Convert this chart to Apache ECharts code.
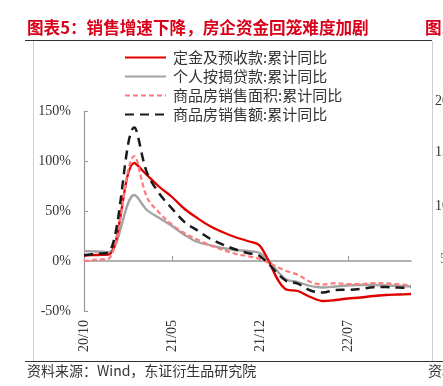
<!DOCTYPE html>
<html>
<head>
<meta charset="utf-8">
<script src="https://cdn.jsdelivr.net/npm/echarts@6/dist/echarts.min.js"></script>
<style>
html,body{margin:0;padding:0;background:#fff;}
#c{width:443px;height:386px;}
</style>
</head>
<body>
<div id="c"></div>
<script>
// ---- data ----
var categories = ['20/10','20/11','20/12','21/01','21/02','21/03','21/04','21/05','21/06','21/07','21/08','21/09','21/10','21/11','21/12','22/01','22/02','22/03','22/04','22/05','22/06','22/07','22/08','22/09','22/10','22/11','22/12'];
var depositAdvance = [5.5, 6, 6.5, null, 98, 86, 74, 64, 52, 43, 35, 29, 24, 20, 15, null, -28, -30, -36, -40, -39, -37.5, -36.5, -35, -34, -33.5, -33];
var mortgage = [10, 9.5, 9, null, 66, 51, 43, 35, 26, 19, 16, 13, 11, 10, 8, null, -18, -21, -25, -26.5, -25.5, -24.5, -24, -24, -24.5, -25, -25.5];
var salesArea = [0.0, 1.3, 2.6, null, 104.9, 63.8, 48.1, 36.3, 27.7, 21.5, 15.9, 11.3, 7.3, 4.8, 1.9, null, -9.6, -13.8, -20.9, -23.6, -22.2, -23.1, -23.0, -22.2, -22.3, -23.3, -24.3];
var salesAmount = [5.8, 7.2, 8.7, null, 133.4, 88.5, 67.2, 52.4, 38.9, 30.7, 22.5, 16.6, 11.8, 8.0, 4.8, null, -19.3, -22.7, -29.5, -31.5, -28.9, -28.8, -27.9, -26.3, -26.1, -26.6, -26.7];
var seriesNames = ['定金及预收款:累计同比','个人按揭贷款:累计同比','商品房销售面积:累计同比','商品房销售额:累计同比'];
var yTicks = {min: -50, max: 150, interval: 50};
var titleText = '图表5：销售增速下降，房企资金回笼难度加剧';
var sourceText = '资料来源：Wind，东证衍生品研究院';

var chart = echarts.init(document.getElementById('c'), null, {renderer: 'canvas'});
var serif = '"Liberation Serif", "Times New Roman", serif';
var cjk = '"Noto Sans CJK SC", "Liberation Serif", sans-serif';

function mkSeries(name, data, color, width, dash, z) {
  return {
    name: name, type: 'line', data: data, xAxisIndex: 0, yAxisIndex: 0,
    symbol: 'none', showSymbol: false, smooth: 0.35, connectNulls: true,
    lineStyle: {color: color, width: width, type: dash},
    itemStyle: {color: color}, z: z
  };
}

var option = {
  animation: false,
  backgroundColor: '#fff',
  grid: {left: 84, right: 32, top: 111, bottom: 75, containLabel: false},
  legend: {
    orient: 'vertical', left: 124, top: 50, padding: 0,
    itemWidth: 41, itemHeight: 14, itemGap: 4,
    itemStyle: {opacity: 0, borderWidth: 0},
    textStyle: {fontFamily: cjk, fontSize: 15, color: '#333', padding: [0,0,0,2]},
    data: seriesNames
  },
  xAxis: [{
    type: 'category', data: categories, boundaryGap: false, position: 'bottom',
    axisLine: {show: false, onZero: false}, axisTick: {show: false},
    axisLabel: {rotate: 90, interval: 6, fontFamily: serif, fontSize: 14, color: '#333', margin: 9}
  }, {
    type: 'category', data: categories, boundaryGap: false, position: 'bottom',
    axisLine: {show: true, onZero: true, lineStyle: {color: '#999', width: 1.5}},
    axisTick: {show: true, inside: true, length: 5, interval: 6, lineStyle: {color: '#999', width: 1}},
    axisLabel: {show: false}
  }],
  yAxis: {
    type: 'value', min: yTicks.min, max: yTicks.max, interval: yTicks.interval,
    axisLine: {show: true, lineStyle: {color: '#999', width: 1.2}},
    axisTick: {show: true, inside: true, length: 4, lineStyle: {color: '#999'}},
    splitLine: {show: false},
    axisLabel: {formatter: '{value}%', fontFamily: serif, fontSize: 14, color: '#333', margin: 13}
  },
  series: [
    mkSeries(seriesNames[0], depositAdvance, '#e00000', 2.3, 'solid', 3),
    mkSeries(seriesNames[1], mortgage, '#a3a3a3', 2.3, 'solid', 2),
    mkSeries(seriesNames[2], salesArea, '#ff7b7f', 2.2, [5, 3], 4),
    mkSeries(seriesNames[3], salesAmount, '#1a1a1a', 2.5, [9, 6], 5)
  ],
  graphic: [
    {type: 'text', left: 27, top: 19, style: {text: titleText, fontFamily: cjk, fontSize: 16.6, fontWeight: 'bold', fill: '#d9001b'}},
    {type: 'text', left: 425, top: 19, style: {text: '图.', fontFamily: cjk, fontSize: 16.6, fontWeight: 'bold', fill: '#d9001b'}},
    {type: 'line', shape: {x1: 25, y1: 40.5, x2: 432, y2: 40.5}, style: {stroke: '#333', lineWidth: 1.2}},
    {type: 'line', shape: {x1: 33.5, y1: 41, x2: 33.5, y2: 361}, style: {stroke: '#cfcfcf', lineWidth: 1}},
    {type: 'line', shape: {x1: 432.5, y1: 41, x2: 432.5, y2: 361}, style: {stroke: '#cfcfcf', lineWidth: 1}},
    {type: 'line', shape: {x1: 25, y1: 361.5, x2: 443, y2: 361.5}, style: {stroke: '#333', lineWidth: 1.2}},
    {type: 'text', left: 27, top: 364, style: {text: sourceText, fontFamily: cjk, fontSize: 14, fill: '#333'}},
    {type: 'text', left: 428, top: 364, style: {text: '资料', fontFamily: cjk, fontSize: 14, fill: '#333'}},
    {type: 'text', left: 435, top: 94, style: {text: '20', fontFamily: serif, fontSize: 14, fill: '#333'}},
    {type: 'text', left: 435, top: 145, style: {text: '15', fontFamily: serif, fontSize: 14, fill: '#333'}},
    {type: 'text', left: 435, top: 199, style: {text: '10', fontFamily: serif, fontSize: 14, fill: '#333'}},
    {type: 'text', left: 440, top: 252, style: {text: '5', fontFamily: serif, fontSize: 14, fill: '#777'}}
  ]
};
chart.setOption(option);
</script>
</body>
</html>
